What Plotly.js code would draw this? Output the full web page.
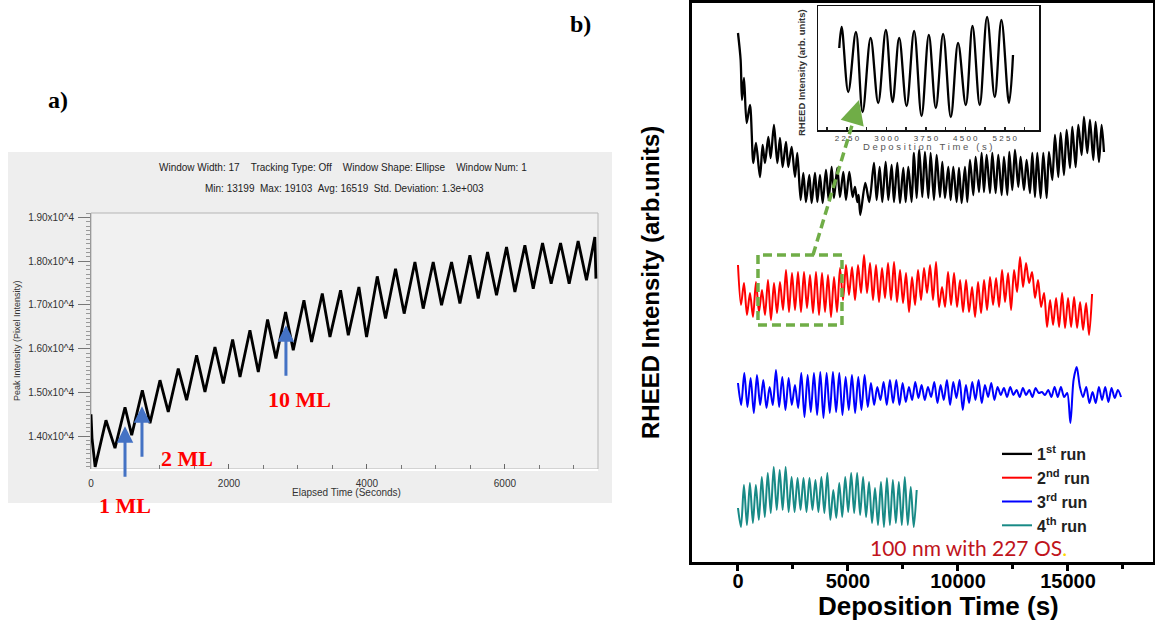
<!DOCTYPE html>
<html><head><meta charset="utf-8">
<script src="https://cdn.plot.ly/plotly-3.0.1.min.js"></script>
<style>html,body{margin:0;padding:0;background:#fff;}#chart{width:1155px;height:622px;}</style>
</head><body><div id="chart"></div>
<script>
// ---------- Panel a : elapsed time (s) vs peak intensity ----------
const aTime = [0, 15, 60, 217, 348, 493, 590, 744, 855, 1000, 1120, 1265, 1386, 1531, 1652, 1797, 1918, 2053, 2160, 2304, 2425, 2560, 2681, 2821, 2932, 3087, 3198, 3353, 3464, 3618, 3730, 3884, 3995, 4150, 4270, 4415, 4540, 4696, 4816, 4961, 5082, 5227, 5348, 5493, 5614, 5749, 5879, 6024, 6145, 6290, 6411, 6546, 6671, 6807, 6932, 7062, 7183, 7304, 7320];
const aIntensity = [14500, 13950, 13300, 14365, 13726, 14662, 14023, 15050, 14297, 15279, 14555, 15546, 14822, 15849, 15011, 16039, 15203, 16207, 15354, 16420, 15468, 16664, 15776, 16838, 15963, 17105, 16153, 17258, 16268, 17333, 16306, 17409, 16268, 17652, 16687, 17826, 16801, 17981, 16915, 17981, 16992, 17981, 17030, 18132, 17144, 18208, 17219, 18322, 17295, 18361, 17372, 18414, 17486, 18414, 17486, 18459, 17562, 18550, 17600];
const aYTickVals = [14000, 15000, 16000, 17000, 18000, 19000];
const aYTickText = ['1.40x10^4', '1.50x10^4', '1.60x10^4', '1.70x10^4', '1.80x10^4', '1.90x10^4'];
const aXTickVals = [0, 2000, 4000, 6000];
const aXTickText = ['0', '2000', '4000', '6000'];
const mlLabels = ['1 ML', '2 ML', '10 ML'];
const mlTimes = [493, 739, 2826];
const mlIntensity = [14228, 14685, 16534];

// ---------- Panel b : RHEED runs (arb. units) ----------
const run1Time = [0, 121, 182, 273, 394, 546, 697, 818, 1000, 1121, 1227, 1379, 1485, 1636, 1788, 1909, 2030, 2182, 2288, 2439, 2591, 2697, 2848, 2970, 3091, 3242, 3348, 3500, 3606, 3727, 3848, 4000, 4121, 4257, 4363, 4515, 4636, 4788, 4909, 5060, 5212, 5318, 5424, 5485, 5560, 5787, 5969, 6181, 6303, 6439, 6560, 6712, 6833, 6984, 7090, 7242, 7363, 7515, 7621, 7742, 7893, 7999, 8121, 8242, 8378, 8499, 8651, 8757, 8908, 9030, 9181, 9287, 9408, 9560, 9666, 9787, 9939, 10045, 10166, 10317, 10423, 10545, 10696, 10802, 10954, 11075, 11181, 11302, 11454, 11560, 11711, 11832, 11984, 12090, 12241, 12332, 12469, 12590, 12741, 12847, 12999, 13120, 13272, 13378, 13499, 13605, 13756, 13878, 14029, 14135, 14287, 14408, 14559, 14665, 14817, 14938, 15090, 15196, 15347, 15468, 15620, 15726, 15877, 15999, 16150, 16256, 16408, 16529, 16635];
const run1Int = [529, 502, 462, 484, 439, 457, 399, 419, 385, 417, 399, 425, 404, 437, 399, 424, 395, 420, 395, 415, 385, 409, 362, 389, 360, 387, 359, 389, 360, 387, 359, 392, 362, 395, 364, 394, 365, 390, 362, 390, 365, 375, 360, 367, 347,
  379, 360,
  399, 362, 395, 360, 400, 362, 397, 360, 399, 359, 394, 360, 395, 360, 409, 364, 412, 365, 410, 364, 409, 362, 407, 365, 400, 364, 395, 362, 395, 360, 394, 359, 395, 360, 402, 367, 405, 370, 409, 370, 407, 369, 409, 369, 407, 367, 405, 367, 410, 372, 412, 375, 405, 372, 402, 369, 409, 365, 409, 364, 409, 364, 410, 382, 427, 385, 429, 387, 432, 394, 435, 395, 437, 407, 445, 409, 442, 402, 440, 400, 437, 410];

const run2Start = 0, run2Step = 136.4;
const run2Int = [297, 257, 279, 247, 269, 245, 280, 250, 272, 247, 282, 242, 279, 249, 280, 252, 292, 250, 289, 252, 290, 250, 290, 254, 287, 249, 290, 247, 289, 250, 287, 245, 285, 250, 294, 262, 297, 267, 295, 262, 297, 269, 307, 269, 299, 262, 297, 260, 294, 264, 299, 262, 300, 260, 292, 259, 289, 250, 285, 257, 292, 262, 294, 269, 297, 262, 300, 255, 275, 255, 290, 257, 289, 255, 282, 250, 282, 250, 275, 245, 280, 249, 282, 252, 285, 257, 284, 255, 292, 260, 289, 252, 292, 270, 305, 275, 299, 279, 290, 264, 282, 255, 269, 235, 262, 237, 264, 235, 269, 234, 264, 235, 265, 234, 260, 232, 259, 227, 268];

const run3Start = 0, run3Step = 143.9;
const run3Int = [179, 157, 189, 155, 184, 149, 187, 157, 182, 154, 175, 157, 192, 155, 185, 152, 184, 157, 177, 154, 189, 145, 187, 150, 189, 147, 190, 144, 189, 149, 190, 150, 189, 147, 185, 152, 187, 149, 185, 152, 187, 155, 179, 157, 175, 162, 180, 157, 182, 159, 182, 157, 179, 160, 175, 162, 180, 164, 177, 162, 175, 165, 180, 159, 177, 162, 182, 157, 180, 164, 182, 152, 177, 159, 180, 162, 182, 159, 177, 165, 179, 162, 175, 167, 174, 165, 175, 167, 172, 165, 174, 167, 172, 165, 174, 169, 170, 167, 172, 165, 175, 165, 175, 165, 169, 139, 182, 195, 175, 165, 175, 159, 170, 159, 175, 162, 175, 160, 174, 164, 172, 165];

const run4Start = 0, run4Step = 135.4;
const run4Int = [54, 35, 77, 37, 79, 39, 77, 42, 85, 45, 89, 49, 95, 52, 92, 52, 95, 50, 85, 50, 84, 52, 84, 50, 84, 52, 82, 50, 85, 49, 89, 42, 72, 44, 79, 45, 85, 50, 89, 49, 89, 47, 85, 45, 80, 39, 74, 37, 80, 35, 84, 37, 82, 39, 80, 37, 85, 37, 75, 35, 72];

const runNames = ['1<sup>st</sup> run', '2<sup>nd</sup> run', '3<sup>rd</sup> run', '4<sup>th</sup> run'];
const runColors = ['#000000', '#ff0000', '#0000ff', '#188a86'];
const bXTickVals = [0, 5000, 10000, 15000];
const bXTickText = ['0', '5000', '10000', '15000'];

// ---------- Inset ----------
const insetTime = [2104, 2149, 2275, 2421, 2548, 2700, 2844, 2990, 3117, 3243, 3383, 3527, 3668, 3806, 3939, 4078, 4224, 4362, 4509, 4636, 4774, 4913, 5059, 5186, 5330, 5406];
const insetInt = [82, 103, 38, 98, 18, 92, 27, 100, 28, 92, 24, 99, 14, 95, 22, 96, 13, 87, 25, 104, 25, 113, 33, 110, 27, 75];
const insetTickVals = [2250, 3000, 3750, 4500, 5250];
const insetTickText = ['2 2 5 0', '3 0 0 0', '3 7 5 0', '4 5 0 0', '5 2 5 0'];

// ---------- helpers ----------
const W = 1155, H = 622;
const px = x => x / W;
const py = y => 1 - y / H;
const SANS = 'Liberation Sans, Arial, sans-serif';
const SERIF = 'Liberation Serif, Times New Roman, serif';

const traces = [
  {x: aTime, y: aIntensity, xaxis: 'x', yaxis: 'y', mode: 'lines', line: {color: '#000', width: 2.8}, showlegend: false, hoverinfo: 'skip'},
  {x: run1Time, y: run1Int, xaxis: 'x2', yaxis: 'y2', mode: 'lines', name: runNames[0], line: {color: runColors[0], width: 2.3, shape: 'spline', smoothing: 0.8}},
  {x0: run2Start, dx: run2Step, y: run2Int, xaxis: 'x2', yaxis: 'y2', mode: 'lines', name: runNames[1], line: {color: runColors[1], width: 2, shape: 'spline', smoothing: 0.8}},
  {x0: run3Start, dx: run3Step, y: run3Int, xaxis: 'x2', yaxis: 'y2', mode: 'lines', name: runNames[2], line: {color: runColors[2], width: 2, shape: 'spline', smoothing: 0.8}},
  {x0: run4Start, dx: run4Step, y: run4Int, xaxis: 'x2', yaxis: 'y2', mode: 'lines', name: runNames[3], line: {color: runColors[3], width: 2, shape: 'spline', smoothing: 0.8}},
  {x: insetTime, y: insetInt, xaxis: 'x3', yaxis: 'y3', mode: 'lines', line: {color: '#000', width: 2.3, shape: 'spline', smoothing: 1}, showlegend: false}
];

function label(x, y, text, font, extra) {
  return Object.assign({xref: 'paper', yref: 'paper', x: px(x), y: py(y), text: text, showarrow: false,
                        xanchor: 'center', yanchor: 'middle', font: font}, extra || {});
}

const annotations = [
  label(58, 100, '<b>a)</b>', {family: SERIF, size: 24, color: '#000'}),
  label(580, 24, '<b>b)</b>', {family: SERIF, size: 24, color: '#000'}),
  label(343, 167, 'Window Width: 17\u00a0\u00a0\u00a0\u00a0Tracking Type: Off\u00a0\u00a0\u00a0\u00a0Window Shape: Ellipse\u00a0\u00a0\u00a0\u00a0Window Num: 1', {family: SANS, size: 10, color: '#222'}),
  label(344, 188, 'Min: 13199\u00a0\u00a0Max: 19103\u00a0\u00a0Avg: 16519\u00a0\u00a0Std. Deviation: 1.3e+003', {family: SANS, size: 10, color: '#222'}),
  label(17, 341, 'Peak Intensity (Pixel Intensity)', {family: SANS, size: 9, color: '#333'}, {textangle: -90}),
  label(346, 492, 'Elapsed Time (Seconds)', {family: SANS, size: 10, color: '#333'}),
  label(125, 505, '<b>' + mlLabels[0] + '</b>', {family: SERIF, size: 22, color: '#ff0000'}),
  label(187, 458, '<b>' + mlLabels[1] + '</b>', {family: SERIF, size: 22, color: '#ff0000'}),
  label(299, 399, '<b>' + mlLabels[2] + '</b>', {family: SERIF, size: 22, color: '#ff0000'}),
  // panel b texts
  label(650, 283, '<b>RHEED Intensity (arb.units)</b>', {family: SANS, size: 24, color: '#000'}, {textangle: -90}),
  label(938, 606, '<b>Deposition Time (s)</b>', {family: SANS, size: 26, color: '#000'}),
  label(969, 547, '100 nm with 227 OS<span style="color:#ffd700">.</span>', {family: 'Lato, Open Sans, sans-serif', size: 21, color: '#c0141c'}),
  label(801, 73, '<b>RHEED Intensity (arb. units)</b>', {family: SANS, size: 9.5, color: '#333'}, {textangle: -90}),
  label(928, 146, 'D e p o s i t i o n\u00a0\u00a0 T i m e\u00a0\u00a0 ( s )', {family: SANS, size: 9.5, color: '#555'}),
  // green arrow head
  {xref: 'x2', yref: 'y2', x: 5500, y: 462, ax: -5, ay: 17, text: '', showarrow: true, arrowhead: 2, arrowsize: 1.2, arrowwidth: 4, arrowcolor: '#70ad47', standoff: 0}
];
for (let i = 0; i < mlTimes.length; i++) {
  annotations.push({xref: 'x', yref: 'y', x: mlTimes[i], y: mlIntensity[i], ax: 0, ay: 52, text: '', showarrow: true, arrowhead: 2, arrowsize: 1.1, arrowwidth: 3, arrowcolor: '#4472c4', standoff: 0});
}

const shapes = [
  {type: 'rect', xref: 'paper', yref: 'paper', x0: px(8), x1: px(612), y0: py(503), y1: py(152), fillcolor: '#eeeeee', line: {width: 0}, layer: 'below'},
  {type: 'rect', xref: 'x domain', yref: 'y domain', x0: 0, x1: 1, y0: 0, y1: 1, fillcolor: '#f1f1f1', line: {color: '#b5b5b5', width: 1}, layer: 'below'},
  {type: 'rect', xref: 'x2', yref: 'y2', x0: 909, x1: 4727, y0: 237, y1: 307, line: {color: '#70ad47', width: 3.5, dash: '9px,5px'}, layer: 'above'},
  {type: 'line', xref: 'x2', yref: 'y2', x0: 3409, y0: 307, x1: 5227, y1: 440, line: {color: '#70ad47', width: 3.5, dash: '9px,5px'}, layer: 'above'}
];

const layout = {
  width: W, height: H,
  margin: {l: 0, r: 0, t: 0, b: 0},
  paper_bgcolor: '#ffffff', plot_bgcolor: 'rgba(0,0,0,0)',
  font: {family: SANS},
  showlegend: true,
  legend: {x: px(997), y: py(437), xanchor: 'left', yanchor: 'top', bgcolor: 'rgba(0,0,0,0)', borderwidth: 0,
           font: {family: SANS, size: 16, color: '#222', weight: 'bold'}, itemwidth: 30, tracegroupgap: 0},
  xaxis: {domain: [px(91), px(598)], anchor: 'y', range: [0, 7350], tickmode: 'array', tickvals: aXTickVals, ticktext: aXTickText,
          ticks: 'inside', ticklen: 5, tickcolor: '#666', tickwidth: 1, ticklabelstandoff: 4,
          minor: {dtick: 500, tick0: 0, ticks: 'inside', ticklen: 4, tickcolor: '#777'},
          showline: true, linecolor: '#ffffff', linewidth: 1.5, showgrid: false, zeroline: false,
          tickfont: {family: SANS, size: 10, color: '#333'}},
  yaxis: {domain: [py(469), py(213)], anchor: 'x', range: [13250, 19100], tickmode: 'array', tickvals: aYTickVals, ticktext: aYTickText,
          ticks: 'outside', ticklen: 12, tickcolor: '#777', tickwidth: 1, ticklabelstandoff: 2,
          minor: {dtick: 100, tick0: 0, ticks: 'outside', ticklen: 4, tickcolor: '#999'},
          showline: true, linecolor: '#999', linewidth: 1, showgrid: false, zeroline: false,
          tickfont: {family: SANS, size: 10, color: '#333'}},
  xaxis2: {domain: [px(692), px(1153)], anchor: 'y2', range: [-2090, 18864], tickmode: 'array', tickvals: bXTickVals, ticktext: bXTickText,
           ticks: 'outside', ticklen: 6, tickwidth: 3, tickcolor: '#000', ticklabelstandoff: -7,
           minor: {dtick: 2500, tick0: 0, ticks: 'outside', ticklen: 4, tickwidth: 3, tickcolor: '#000'},
           showline: true, mirror: true, linecolor: '#000', linewidth: 3, showgrid: false, zeroline: false,
           tickfont: {family: SANS, size: 20, color: '#000', weight: 'bold'}},
  yaxis2: {domain: [py(562), py(3)], anchor: 'x2', range: [0, 559], showticklabels: false, ticks: '',
           showline: true, mirror: true, linecolor: '#000', linewidth: 3, showgrid: false, zeroline: false},
  xaxis3: {domain: [px(818), px(1039)], anchor: 'y3', range: [1700, 5900], tickmode: 'array', tickvals: insetTickVals, ticktext: insetTickText,
           ticks: 'inside', ticklen: 3, tickcolor: '#222', tickwidth: 1.5,
           minor: {dtick: 375, tick0: 0, ticks: 'inside', ticklen: 3, tickwidth: 1.5, tickcolor: '#222'},
           showline: true, mirror: true, linecolor: '#111', linewidth: 1.5, showgrid: false, zeroline: false,
           tickfont: {family: SANS, size: 8, color: '#444'}},
  yaxis3: {domain: [py(130), py(6)], anchor: 'x3', range: [0, 124], showticklabels: false, ticks: '',
           showline: true, mirror: true, linecolor: '#111', linewidth: 1.5, showgrid: false, zeroline: false},
  annotations: annotations,
  shapes: shapes
};

Plotly.newPlot('chart', traces, layout, {displayModeBar: false, staticPlot: true});
</script>
</body></html>
